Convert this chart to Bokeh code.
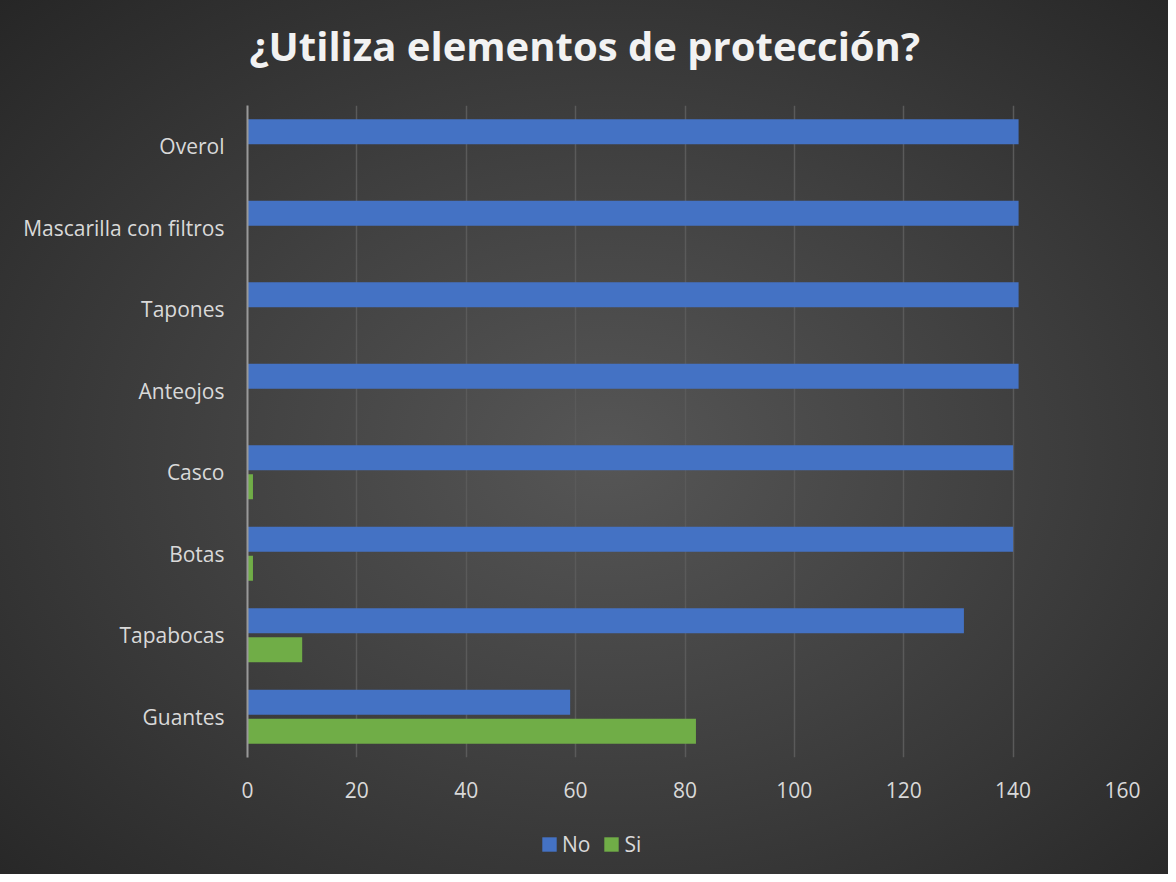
from bokeh.plotting import figure
from bokeh.models import ColumnDataSource, FactorRange, Range1d, Legend, LegendItem
from bokeh.transform import dodge
from bokeh.layouts import column
from bokeh.embed import file_html
from bokeh.resources import INLINE

title_text = "¿Utiliza elementos de protección?"
categories = ["Guantes", "Tapabocas", "Botas", "Casco", "Anteojos", "Tapones",
              "Mascarilla con filtros", "Overol"]
no_vals = [59, 131, 140, 140, 141, 141, 141, 141]
si_vals = [82, 10, 1, 1, 0, 0, 0, 0]
x_ticks = [0, 20, 40, 60, 80, 100, 120, 140, 160]
series_names = ["No", "Si"]
series_colors = ["#4472C4", "#70AD47"]

src = ColumnDataSource(dict(cat=categories, no=no_vals, si=si_vals))


def blank(fig):
    fig.background_fill_alpha = 0
    fig.border_fill_alpha = 0
    fig.outline_line_color = None
    fig.xgrid.grid_line_color = None
    fig.ygrid.grid_line_color = None


# title strip
p0 = figure(width=1168, height=105, output_backend="svg", toolbar_location=None,
            x_range=Range1d(0, 1), y_range=Range1d(0, 1),
            x_axis_location=None, y_axis_location=None, min_border=0)
blank(p0)
p0.title.text = title_text
p0.title.text_font = "Open Sans"
p0.title.text_font_style = "bold"
p0.title.text_font_size = "40px"
p0.title.text_color = "#f2f2f2"
p0.title.align = "left"
p0.title.offset = 2
p0.title.standoff = 30

# main chart
p = figure(y_range=FactorRange(*categories), x_range=Range1d(0, 160),
           width=1168, height=721, output_backend="svg", toolbar_location=None,
           min_border_left=247, min_border_right=46, min_border_top=0,
           min_border_bottom=69)
blank(p)

r_no = p.hbar(y=dodge("cat", 0.178, range=p.y_range), right="no", left=0, height=0.307,
              source=src, fill_color=series_colors[0], line_color=None)
r_si = p.hbar(y=dodge("cat", -0.178, range=p.y_range), right="si", left=0, height=0.307,
              source=src, fill_color=series_colors[1], line_color=None)

xa = p.xaxis[0]
xa.ticker = x_ticks
xa.axis_line_color = None
xa.major_tick_line_color = None
xa.minor_tick_line_color = None
xa.major_label_text_font = "Open Sans"
xa.major_label_text_font_size = "21px"
xa.major_label_text_color = "#d9d9d9"
xa.major_label_standoff = 18

ya = p.yaxis[0]
ya.axis_line_color = "#999999"
ya.axis_line_width = 2
ya.major_tick_line_color = None
ya.minor_tick_line_color = None
ya.major_label_text_font = "Open Sans"
ya.major_label_text_font_size = "21px"
ya.major_label_text_color = "#d9d9d9"
ya.major_label_standoff = 17

p.xgrid.grid_line_color = "#5a5a5a"
p.xgrid.grid_line_width = 1.5

# legend strip below the chart (swatch renderers lie outside its visible range)
p2 = figure(width=1168, height=48, output_backend="svg", toolbar_location=None,
            x_range=Range1d(0, 1), y_range=Range1d(0, 1),
            x_axis_location=None, y_axis_location=None, min_border=0)
blank(p2)
l_no = p2.hbar(y=[-5], right=[-5], left=-6, height=0.5,
               fill_color=series_colors[0], line_color=None)
l_si = p2.hbar(y=[-5], right=[-5], left=-6, height=0.5,
               fill_color=series_colors[1], line_color=None)

legend = Legend(items=[LegendItem(label=series_names[0], renderers=[l_no]),
                       LegendItem(label=series_names[1], renderers=[l_si])],
                orientation="horizontal", location=(293, 16))
legend.label_text_font = "Open Sans"
legend.label_text_font_size = "21px"
legend.label_text_color = "#d9d9d9"
legend.glyph_width = 18
legend.glyph_height = 18
legend.label_standoff = 4
legend.spacing = 12
legend.padding = 0
legend.margin = 0
legend.background_fill_alpha = 0
legend.border_line_alpha = 0
p2.add_layout(legend, "center")

lay = column(p0, p, p2, spacing=0)
lay.styles = {"background": "radial-gradient(ellipse farthest-corner at 52% 52%, #565656 0%, #414141 45%, #262626 100%)"}

open("out.html", "w").write(file_html(lay, INLINE))
